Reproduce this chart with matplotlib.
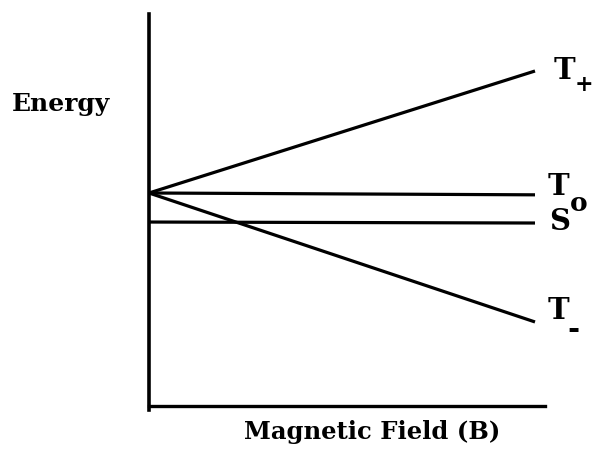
import matplotlib
matplotlib.use("Agg")
import matplotlib.pyplot as plt

# Data (field B normalised 0..1, energy in arbitrary units)
B = [0.0, 1.0]
T_plus = [0.0, 1.0]
T_zero = [0.0, -0.015]
S_level = [-0.238, -0.246]
T_minus = [0.0, -1.057]

labels_main = ["T", "T", "S", "T"]
label_subs = ["+", "o", "", "-"]

FONT = "DejaVu Serif"

fig = plt.figure(figsize=(5.94, 4.55), dpi=100)
ax = fig.add_axes([149/594, 1-410/455, (545-149)/594, (410-14)/455])
ax.set_xlim(0, 396/386)
ax.set_ylim(-217/122, 179/122)

for series in (T_plus, T_zero, S_level, T_minus):
    ax.plot(B, series, color="black", lw=2.3, solid_capstyle="butt", clip_on=False)

for side in ("top", "right"):
    ax.spines[side].set_visible(False)
ax.spines["left"].set_linewidth(2.6)
ax.spines["bottom"].set_linewidth(2.4)
ax.spines["bottom"].set_position(("data", -213/122))
ax.set_xticks([])
ax.set_yticks([])
ax.patch.set_alpha(0)

kw = dict(fontfamily=FONT, fontweight="bold", color="black", clip_on=False)
ax.text(1.075, 1.008, labels_main[0], fontsize=21, ha="center", va="center", **kw)
ax.text(1.127, 0.885, label_subs[0], fontsize=16, ha="center", va="center", **kw)
ax.text(1.062, 0.057, labels_main[1], fontsize=21, ha="center", va="center", **kw)
ax.text(1.114, -0.082, label_subs[1], fontsize=19, ha="center", va="center", **kw)
ax.text(1.065, -0.23, labels_main[2], fontsize=21, ha="center", va="center", **kw)
ax.text(1.06, -0.967, labels_main[3], fontsize=21, ha="center", va="center", **kw)
ax.text(1.10, -1.115, label_subs[3], fontsize=21, ha="center", va="center", **kw)

fig.text(12/594, 1-104/455, "Energy", fontsize=18, ha="left", va="center",
         fontfamily=FONT, fontweight="bold")
fig.text(372/594, 1-432/455, "Magnetic Field (B)", fontsize=17.5, ha="center", va="center",
         fontfamily=FONT, fontweight="bold")

fig.savefig("out.png", dpi=100)
